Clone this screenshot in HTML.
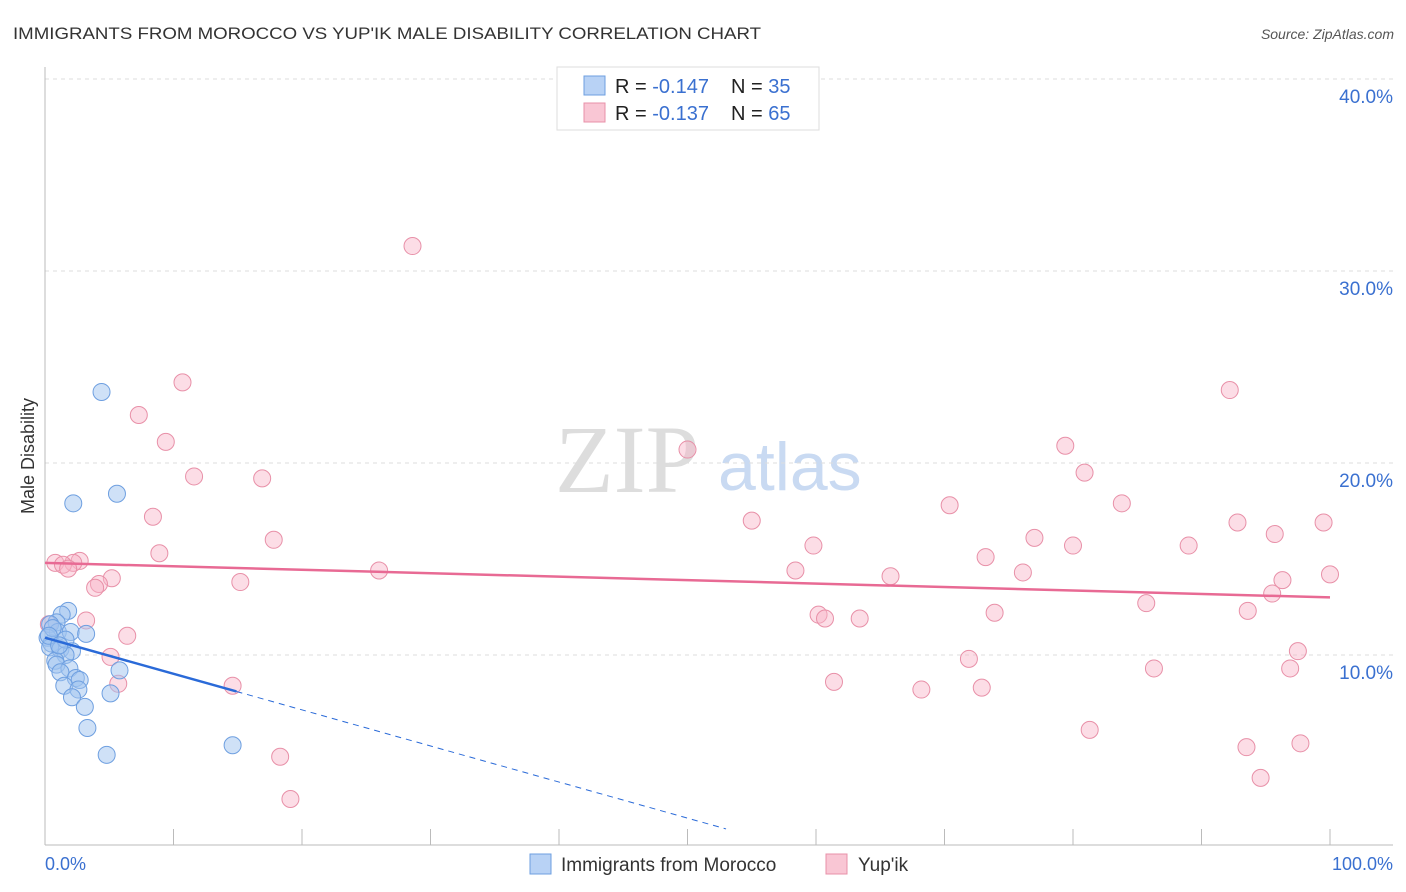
<!DOCTYPE html>
<html><head><meta charset="utf-8"><style>
body{margin:0;background:#fff;font-family:"Liberation Sans",sans-serif;}
svg{display:block}
</style></head><body>
<svg id="chart" width="1406" height="892" xmlns="http://www.w3.org/2000/svg">
<text x="13" y="39" font-size="17" fill="#333" textLength="748" lengthAdjust="spacingAndGlyphs">IMMIGRANTS FROM MOROCCO VS YUP'IK MALE DISABILITY CORRELATION CHART</text>
<text x="1394" y="39" font-size="14" fill="#555" font-style="italic" text-anchor="end">Source: ZipAtlas.com</text>
<text x="555" y="492" font-size="96" fill="#ddd" font-family="Liberation Serif,serif">ZIP</text>
<text x="718" y="490" font-size="68" fill="#c9daf2">atlas</text>
<text transform="translate(34,456) rotate(-90)" font-size="18" fill="#333" text-anchor="middle">Male Disability</text>
<g id="grid"></g><g id="axes"></g><g id="pts"></g><g id="trend"></g>
<g>
<rect x="557" y="67" width="262" height="63" fill="#fff" stroke="#ddd"/>
<rect x="584" y="76" width="21" height="19" fill="#b8d2f5" stroke="#6e9fe0"/>
<rect x="584" y="103" width="21" height="19" fill="#f9c6d4" stroke="#e890a8"/>
<text x="615" y="93" font-size="20" fill="#222">R = <tspan fill="#3a70d0">-0.147</tspan>   <tspan x="731">N = </tspan><tspan fill="#3a70d0">35</tspan></text>
<text x="615" y="120" font-size="20" fill="#222">R = <tspan fill="#3a70d0">-0.137</tspan>   <tspan x="731">N = </tspan><tspan fill="#3a70d0">65</tspan></text>
</g>
<g>
<rect x="530" y="854" width="21" height="20" fill="#b8d2f5" stroke="#6e9fe0"/>
<text x="561" y="871" font-size="19" fill="#333">Immigrants from Morocco</text>
<rect x="826" y="854" width="21" height="20" fill="#f9c6d4" stroke="#e890a8"/>
<text x="858" y="871" font-size="19" fill="#333">Yup'ik</text>
</g>
<text x="45" y="870" font-size="18" fill="#3a70d0">0.0%</text>
<text x="1393" y="870" font-size="18" fill="#3a70d0" text-anchor="end">100.0%</text>
</svg>
<script>
const yTicks=[10,20,30,40];
const yTickLabels=["10.0%","20.0%","30.0%","40.0%"];
const moroccoX=[4.4,5.6,2.2,1.8,1.3,0.9,0.4,1.0,2.0,3.2,0.2,0.5,0.4,1.2,2.1,1.6,0.8,0.9,1.9,5.8,1.2,2.4,2.7,1.5,2.6,2.1,5.1,3.1,3.3,4.8,14.6,0.6,1.6,0.3,1.1];
const moroccoY=[23.7,18.4,17.9,12.3,12.1,11.7,11.6,11.2,11.2,11.1,10.9,10.6,10.4,10.3,10.2,10.0,9.7,9.5,9.3,9.2,9.1,8.8,8.7,8.4,8.2,7.8,8.0,7.3,6.2,4.8,5.3,11.4,10.8,11.0,10.5];
const yupikX=[28.6,10.7,7.3,9.4,11.6,16.9,8.4,17.8,8.9,0.8,2.7,2.2,1.4,1.8,5.2,15.2,4.2,3.9,26.0,3.2,6.4,5.1,5.7,14.6,18.3,19.1,50.0,55.0,59.8,58.4,60.2,60.7,63.4,61.4,65.8,68.2,70.4,71.9,72.9,73.2,73.9,76.1,77.0,79.4,80.0,80.9,81.3,83.8,85.7,86.3,89.0,92.2,92.8,93.6,93.5,94.6,95.7,96.3,95.5,96.9,97.5,97.7,99.5,100.0,0.3];
const yupikY=[31.3,24.2,22.5,21.1,19.3,19.2,17.2,16.0,15.3,14.8,14.9,14.8,14.7,14.5,14.0,13.8,13.7,13.5,14.4,11.8,11.0,9.9,8.5,8.4,4.7,2.5,20.7,17.0,15.7,14.4,12.1,11.9,11.9,8.6,14.1,8.2,17.8,9.8,8.3,15.1,12.2,14.3,16.1,20.9,15.7,19.5,6.1,17.9,12.7,9.3,15.7,23.8,16.9,12.3,5.2,3.6,16.3,13.9,13.2,9.3,10.2,5.4,16.9,14.2,11.6];
const moroccoTrend=[10.9,8.1,14.9,53];
const yupikTrend=[14.8,13.0];
const NS="http://www.w3.org/2000/svg";
const xS=v=>45+v*12.85, yS=v=>847-v*19.2;
function mk(p,tag,a){const e=document.createElementNS(NS,tag);for(const k in a)e.setAttribute(k,a[k]);p.appendChild(e);return e;}
const grid=document.getElementById('grid'),axes=document.getElementById('axes'),pts=document.getElementById('pts'),tr=document.getElementById('trend');
yTicks.forEach((t,i)=>{
 const l=mk(grid,'line',{x1:45,x2:1393,y1:yS(t),y2:yS(t),stroke:'#ddd','stroke-dasharray':'4,4'});
 
 
 const tx=mk(grid,'text',{x:1393,y:yS(t)+24,'font-size':19,fill:'#3a70d0','text-anchor':'end'});
 tx.textContent=yTickLabels[i];
 
 
});
const ya=mk(axes,'line',{x1:45,x2:45,y1:67,y2:845,stroke:'#bbb'});


const xa=mk(axes,'line',{x1:45,x2:1393,y1:845,y2:845,stroke:'#bbb'});


for(let i=1;i<=10;i++){const t=mk(axes,'line',{x1:xS(i*10),x2:xS(i*10),y1:829,y2:845,stroke:'#bbb'});
 
 }
yupikX.forEach((x,i)=>{const c=mk(pts,'circle',{cx:xS(x),cy:yS(yupikY[i]),r:8.5,fill:'rgba(248,180,200,0.45)',stroke:'#e890a8','stroke-width':1});
 
 });
moroccoX.forEach((x,i)=>{const c=mk(pts,'circle',{cx:xS(x),cy:yS(moroccoY[i]),r:8.5,fill:'rgba(160,196,240,0.5)',stroke:'#6e9fe0','stroke-width':1});
 
 });
const yl=mk(tr,'line',{x1:xS(0),y1:yS(yupikTrend[0]),x2:xS(100),y2:yS(yupikTrend[1]),stroke:'#e86a94','stroke-width':2.5});


const sl=(moroccoTrend[1]-moroccoTrend[0])/moroccoTrend[2];
const ml=mk(tr,'line',{x1:xS(0),y1:yS(moroccoTrend[0]),x2:xS(moroccoTrend[2]),y2:yS(moroccoTrend[1]),stroke:'#2a6ad8','stroke-width':2.5});


const md=mk(tr,'line',{x1:xS(moroccoTrend[2]),y1:yS(moroccoTrend[1]),x2:xS(moroccoTrend[3]),y2:yS(moroccoTrend[0]+sl*moroccoTrend[3]),stroke:'#2a6ad8','stroke-width':1,'stroke-dasharray':'6,5'});


</script>
</body></html>
